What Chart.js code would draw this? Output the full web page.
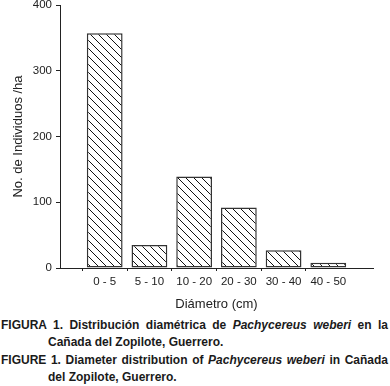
<!DOCTYPE html>
<html>
<head>
<meta charset="utf-8">
<script src="https://cdn.jsdelivr.net/npm/chart.js@4/dist/chart.umd.min.js"></script>
<style>
  body { margin: 0; background: #fff; width: 390px; height: 386px; overflow: hidden; font-family: "Liberation Sans", Arial, sans-serif; }
  #wrap { position: relative; width: 390px; height: 312px; }
  .cap { font-weight: bold; font-size: 12px; color: #1a1a1a; line-height: 16.5px; text-align: justify;
         padding-left: 48px; text-indent: -47px; padding-right: 2px; }
  #cap1 { margin-top: 5px; }
  #cap2 { margin-top: 2px; }
  .cap i { font-weight: bold; }
</style>
</head>
<body>
<div id="wrap"><canvas id="chart"></canvas></div>
<div class="cap" id="cap1">FIGURA 1. Distribución diamétrica de <i>Pachycereus weberi</i> en la Cañada del Zopilote, Guerrero.</div>
<div class="cap" id="cap2">FIGURE 1. Diameter distribution of <i>Pachycereus weberi</i> in Cañada del Zopilote, Guerrero.</div>
<script>
// diameter classes (empty slots at both ends, like the original axis)
const classes = ['', '0 - 5', '5 - 10', '10 - 20', '20 - 30', '30 - 40', '40 - 50', ''];
const individuals = [null, 357, 35, 139, 92, 27, 8, null];
const yTicks = [0, 100, 200, 300, 400];

// diagonal hatch pattern
function hatch() {
    const c = document.createElement('canvas');
    c.width = 8; c.height = 8;
    const g = c.getContext('2d');
    g.fillStyle = '#fff';
    g.fillRect(0, 0, 8, 8);
    g.strokeStyle = '#111';
    g.lineWidth = 1;
    g.beginPath();
    g.moveTo(-1, -1); g.lineTo(9, 9);
    g.moveTo(-1, 7); g.lineTo(1, 9);
    g.moveTo(7, -1); g.lineTo(9, 1);
    g.stroke();
    return g.createPattern(c, 'repeat');
}

document.addEventListener("DOMContentLoaded", () => {
    const ctx = document.getElementById('chart').getContext('2d');
    const font = { family: '"Liberation Sans", Arial, sans-serif', size: 11.5 };

    new Chart(ctx, {
        type: 'bar',
        data: {
            labels: classes,
            datasets: [{
                data: individuals,
                backgroundColor: hatch(),
                borderColor: '#333',
                borderWidth: 1.5,
                borderSkipped: false,
                categoryPercentage: 1,
                barPercentage: 0.8
            }]
        },
        options: {
            responsive: true,
            maintainAspectRatio: false,
            animation: false,
            layout: { padding: { top: 5, right: 17, left: 0, bottom: 0 } },
            plugins: { legend: { display: false }, tooltip: { enabled: false } },
            scales: {
                x: {
                    offset: false,
                    grid: {
                        drawOnChartArea: false,
                        tickLength: 3,
                        tickColor: (c) => (c.index === 0 || c.index === classes.length - 1) ? 'rgba(0,0,0,0)' : '#222'
                    },
                    border: { color: '#222', width: 1 },
                    ticks: { color: '#222', font: font, padding: 4, maxRotation: 0, autoSkip: false },
                    title: { display: true, text: 'Diámetro (cm)', color: '#222',
                             font: { family: font.family, size: 13 }, padding: { top: 2, bottom: 0 } },
                    afterFit: (s) => { s.height = 44; }
                },
                y: {
                    min: 0, max: 400,
                    afterBuildTicks: (s) => { s.ticks = yTicks.map(v => ({ value: v })); },
                    grid: { drawOnChartArea: false, tickLength: 4, tickColor: '#222' },
                    border: { color: '#222', width: 1 },
                    ticks: { color: '#222', font: font, padding: 4 },
                    title: { display: true, text: 'No. de Individuos /ha', color: '#222',
                             font: { family: font.family, size: 13 }, padding: { top: 11, bottom: 4 } },
                    afterFit: (s) => { s.width = 60; s.paddingTop = 0; s.paddingBottom = 0; }
                }
            }
        }
    });
});
</script>
</body>
</html>
